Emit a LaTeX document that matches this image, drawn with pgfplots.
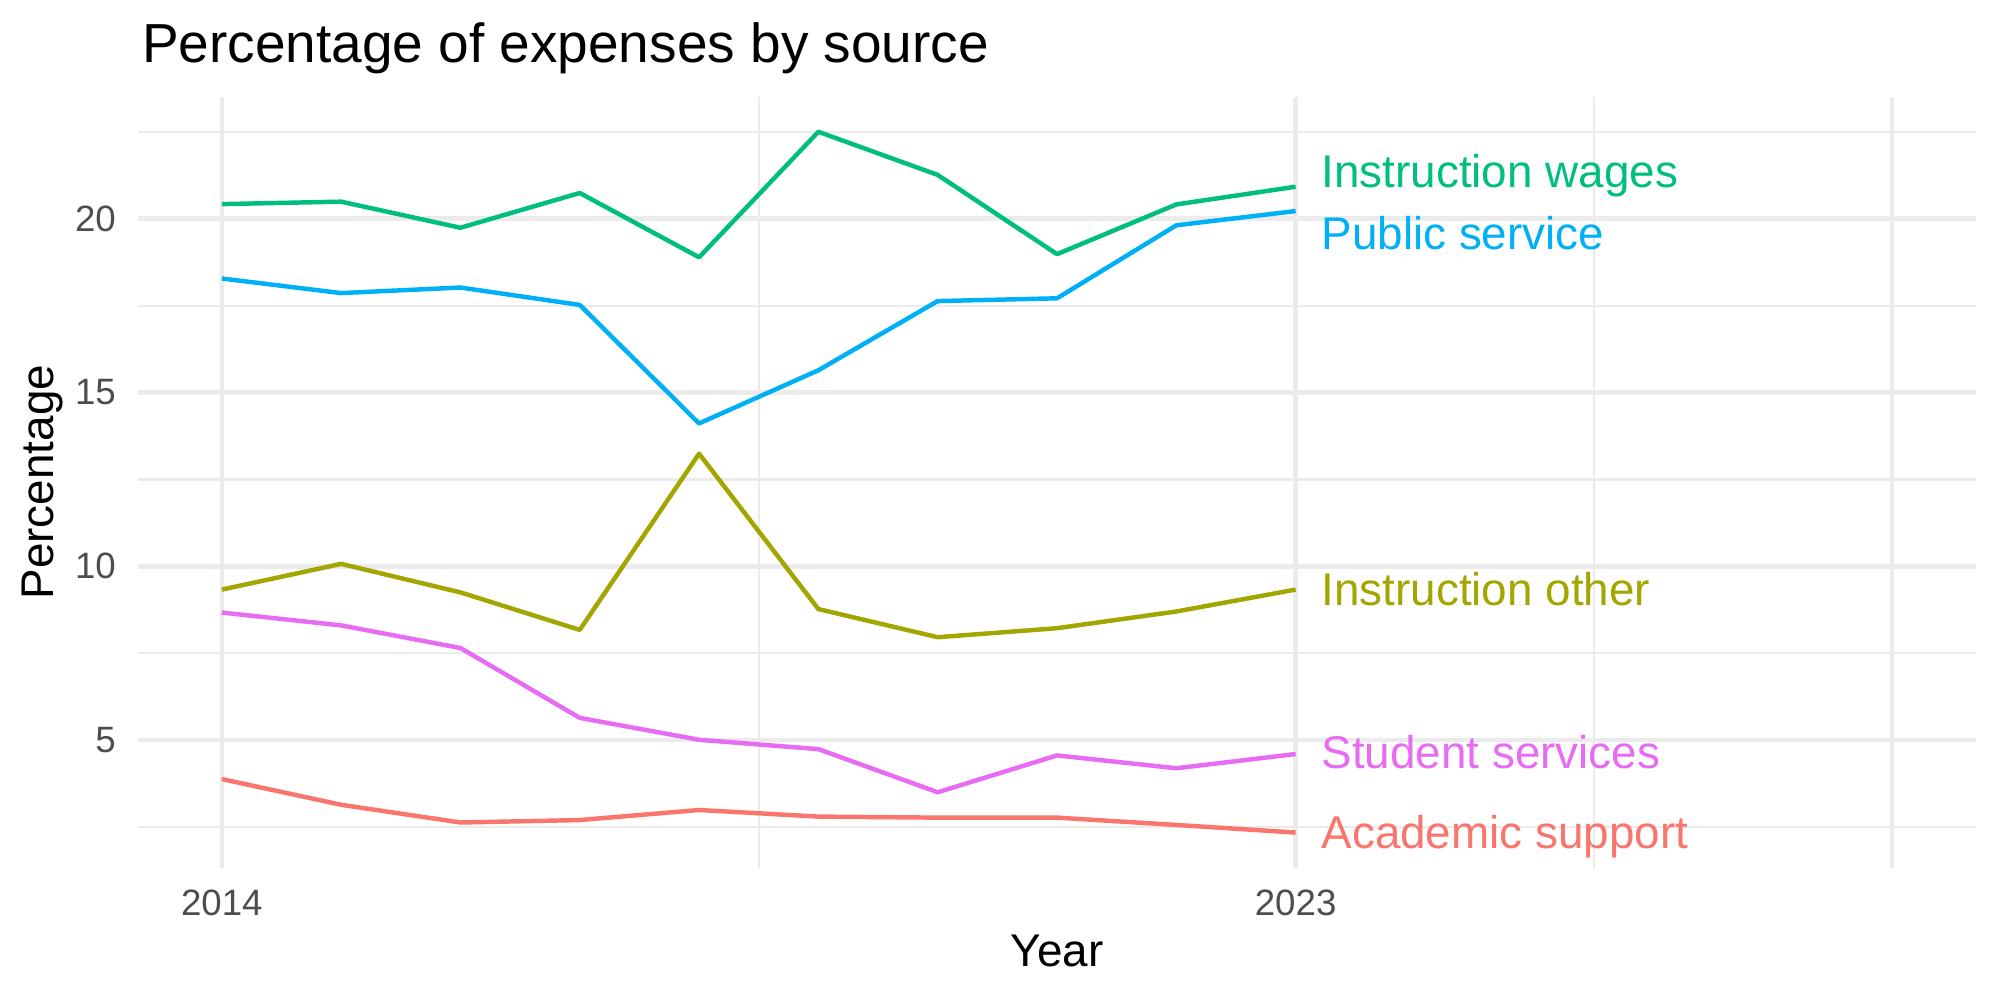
\documentclass[border=0pt]{standalone}
\usepackage{fontspec}
\setmainfont{Liberation Sans}
\usepackage{pgfplots}
\pgfplotsset{compat=1.18}

\definecolor{acad}{HTML}{F8766D}
\definecolor{instother}{HTML}{A3A500}
\definecolor{instwages}{HTML}{00BF7D}
\definecolor{public}{HTML}{00B0F6}
\definecolor{student}{HTML}{E76BF3}
\definecolor{gridgray}{HTML}{EBEBEB}
\definecolor{ticklab}{HTML}{4D4D4D}

\begin{document}
\begin{tikzpicture}
\path[use as bounding box] (0,0) rectangle (480pt,240pt);
\begin{axis}[
  at={(33.19pt,31.75pt)}, anchor=south west,
  scale only axis, width=440.98pt, height=185.04pt,
  xmin=2013.3, xmax=2028.7, ymin=1.33, ymax=23.51,
  xtick={2014,2023,2028}, xticklabels={2014,2023,{}},
  minor xtick={2018.5,2025.5},
  ytick={5,10,15,20}, minor ytick={2.5,7.5,12.5,17.5,22.5},
  grid=both,
  major grid style={gridgray, line width=1.07pt},
  minor grid style={gridgray, line width=0.53pt},
  major tick length=0pt, minor tick length=0pt,
  tick style={draw=none},
  axis line style={draw=none},
  /pgf/number format/assume math mode=true,
  ticklabel style={font=\fontsize{8.8}{10}\selectfont, text=ticklab, inner sep=0pt},
  xticklabel style={anchor=base, yshift=-11.52pt},
  yticklabel style={anchor=east, xshift=-5.18pt},
  xlabel={Year}, ylabel={Percentage},
  label style={font=\fontsize{11}{13}\selectfont, inner sep=0pt},
  xlabel style={at={(axis description cs:0.5,-0.1284)}, anchor=base},
  ylabel style={at={(axis description cs:-0.04604,0.5)}, anchor=base},
  every axis plot/.append style={line width=1.07pt, line join=round},
]
% Academic support
\addplot[acad] coordinates {(2014,3.88) (2015,3.14) (2016,2.63) (2017,2.70) (2018,2.99) (2019,2.80) (2020,2.77) (2021,2.77) (2022,2.56) (2023,2.34)};
% Instruction other
\addplot[instother] coordinates {(2014,9.33) (2015,10.07) (2016,9.25) (2017,8.17) (2018,13.24) (2019,8.77) (2020,7.96) (2021,8.22) (2022,8.70) (2023,9.33)};
% Instruction wages
\addplot[instwages] coordinates {(2014,20.42) (2015,20.49) (2016,19.74) (2017,20.74) (2018,18.89) (2019,22.50) (2020,21.26) (2021,18.98) (2022,20.41) (2023,20.92)};
% Public service
\addplot[public] coordinates {(2014,18.28) (2015,17.86) (2016,18.02) (2017,17.52) (2018,14.11) (2019,15.64) (2020,17.63) (2021,17.71) (2022,19.81) (2023,20.22)};
% Student services
\addplot[student] coordinates {(2014,8.67) (2015,8.30) (2016,7.65) (2017,5.64) (2018,5.01) (2019,4.74) (2020,3.50) (2021,4.56) (2022,4.19) (2023,4.60)};

% direct labels at the line ends
\begin{scope}[every node/.style={anchor=base west, inner sep=0pt, font=\fontsize{11}{13}\selectfont}]
\node[text=instwages] at (axis cs:2023.21,20.90) {Instruction wages};
\node[text=public]    at (axis cs:2023.21,19.12) {Public service};
\node[text=instother] at (axis cs:2023.21,8.86)  {Instruction other};
\node[text=student]   at (axis cs:2023.21,4.17)  {Student services};
\node[text=acad]      at (axis cs:2023.21,1.88)  {Academic support};
\end{scope}
\end{axis}
\node[anchor=base west, inner sep=0pt, font=\fontsize{13.2}{15}\selectfont] at (33.9pt,224.95pt) {Percentage of expenses by source};
\end{tikzpicture}
\end{document}
